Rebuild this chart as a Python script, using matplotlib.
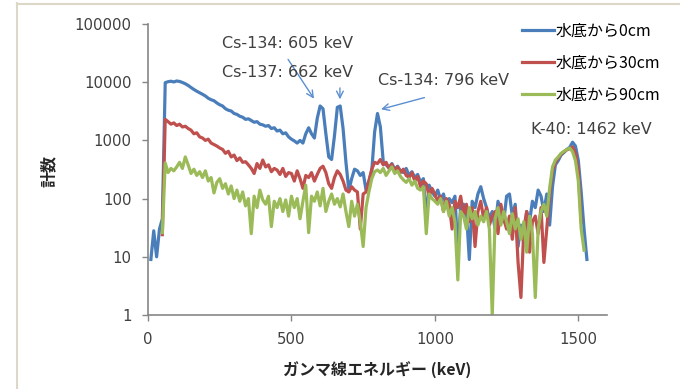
import numpy as np
import matplotlib
matplotlib.use("Agg")
import matplotlib.pyplot as plt
from matplotlib.lines import Line2D

plt.rcParams['font.family'] = ['DejaVu Sans', 'Noto Sans CJK JP']

# Spectra, 10 keV bins.  Each series lists its first bin energy.
E0_BLUE = 10
COUNTS_BLUE = [
    9, 28, 10, 30, 45,
    9800, 10200, 10400, 10100, 10500,
    10300, 9900, 9400, 8800, 8100,
    7500, 7000, 6600, 6200, 5800,
    5300, 5000, 4800, 4400, 4100,
    3900, 3500, 3300, 3200, 2900,
    2800, 2600, 2500, 2300, 2350,
    2200, 2050, 2100, 1900, 1850,
    1750, 1800, 1600, 1650, 1450,
    1500, 1300, 1350, 1150, 1050,
    980, 900, 1000, 900, 1300,
    1650, 1300, 1100, 2400, 3900,
    3500, 1300, 520, 470, 1200,
    3700, 3900, 1600, 420, 140,
    220, 320, 300, 250, 280,
    140, 200, 300, 1400, 2900,
    1700, 430, 380, 340, 400,
    320, 360, 300, 280, 330,
    250, 290, 230, 260, 190,
    220, 45, 170, 130, 110,
    140, 95, 120, 70, 100,
    85, 110, 12, 75, 80,
    60, 9, 90, 70, 120,
    160, 100, 70, 45, 60,
    30, 90, 60, 40, 110,
    120, 50, 80, 15, 35,
    18, 60, 40, 90, 70,
    140, 110, 60, 120, 35,
    160, 380, 450, 560, 620,
    700, 760, 930, 800, 450,
    130, 30, 9,
]

E0_RED = 50
COUNTS_RED = [
    24,
    2300, 2100, 1900, 2000, 1800,
    1900, 1700, 1750, 1600, 1500,
    1300, 1350, 1150, 1100, 1000,
    1050, 900, 850, 800, 740,
    700, 600, 650, 520, 560,
    450, 500, 420, 430, 380,
    330, 270, 400, 330, 460,
    350, 380, 290, 330, 310,
    260, 330, 240, 280, 270,
    200, 300, 220, 150, 250,
    230, 280, 200, 260, 330,
    360, 280, 180, 150, 230,
    300, 260, 200, 140, 130,
    160, 140, 130, 30, 120,
    130, 200, 320, 420, 400,
    470, 380, 420, 330, 390,
    300, 350, 280, 320, 250,
    230, 280, 200, 240, 160,
    200, 180, 110, 150, 120,
    90, 110, 60, 100, 80,
    30, 90, 70, 110, 50,
    80, 40, 70, 15, 60,
    90, 45, 70, 35, 50,
    60, 25, 80, 45, 30,
    50, 20, 70, 8, 2,
    30, 60, 12, 40, 50,
    25, 70, 8, 30, 120,
    300, 420, 500, 580, 640,
    690, 720, 770, 600, 300,
    40,
]

E0_GREEN = 50
COUNTS_GREEN = [
    26,
    410, 280, 330, 300, 350,
    420, 330, 520, 380, 270,
    320, 250, 290, 230, 300,
    200, 230, 125, 190, 220,
    150, 180, 120, 165, 100,
    140, 90, 130, 75, 100,
    25, 110, 70, 140, 95,
    80, 110, 33, 90, 70,
    100, 60, 95, 50, 110,
    70, 100, 45, 90, 170,
    26, 110, 90, 130, 75,
    150, 60, 90, 120, 80,
    100, 72, 120, 60, 33,
    90, 50, 80, 40, 15,
    70, 130, 220, 290, 310,
    280, 330, 250, 300, 350,
    270, 300, 240, 210, 190,
    220, 170, 200, 150, 140,
    160, 25, 120, 100, 90,
    80, 100, 60, 90, 50,
    70, 40, 4, 60, 50,
    30, 70, 45, 60, 35,
    50, 40, 60, 30, 1,
    45, 70, 35, 60, 40,
    25, 55, 30, 45, 20,
    40, 12, 50, 25, 2,
    30, 60, 80, 50, 150,
    350, 460, 520, 600, 650,
    700, 740, 640, 450, 200,
    30, 13,
]

LABELS = ['水底から0cm', '水底から30cm', '水底から90cm']
COLORS = ['#4a7ebb', '#c0504d', '#9bbb59']

X_TICKS = [0, 500, 1000, 1500]
Y_TICKS = [1, 10, 100, 1000, 10000, 100000]


def energies(e0, counts):
    return e0 + 10 * np.arange(len(counts))


fig = plt.figure(figsize=(6.8, 3.89), dpi=100)
ax = fig.add_axes([148 / 680, 74 / 389, 459 / 680, 291 / 389])

series = [(E0_BLUE, COUNTS_BLUE), (E0_RED, COUNTS_RED), (E0_GREEN, COUNTS_GREEN)]
for (e0, c), lab, col in zip(series, LABELS, COLORS):
    ax.plot(energies(e0, c), c, color=col, lw=2.3, label=lab,
            solid_joinstyle='round')

ax.set_yscale('log')
ax.set_ylim(1, 100000)
ax.set_xlim(0, 1600)
ax.set_xticks(X_TICKS)
ax.set_yticks(Y_TICKS)
ax.set_yticklabels([str(v) for v in Y_TICKS])
ax.minorticks_off()
ax.tick_params(axis='both', colors='#868686', labelcolor='#404040',
               labelsize=10.7, length=4, width=1, pad=8)

for side in ('top', 'right'):
    ax.spines[side].set_visible(False)
for side in ('left', 'bottom'):
    ax.spines[side].set_color('#868686')
    ax.spines[side].set_linewidth(1.2)

fig.text(377 / 680, 1 - 370 / 389, 'ガンマ線エネルギー (keV)', ha='center',
         va='center', fontsize=11.5, fontweight='bold', color='#262626',
         family=['Noto Sans CJK JP'])
fig.text(49 / 680, 1 - 171 / 389, '計数', ha='center', va='center',
         rotation=90, fontsize=11.5, fontweight='bold', color='#262626',
         family=['Noto Sans CJK JP'])

# peak annotations
tcol = '#404040'
akw = dict(arrowstyle='->', color='#5b8fd0', lw=1.0, mutation_scale=12)
ax.text(257, 47000, 'Cs-134: 605 keV', fontsize=11.5, color=tcol,
        ha='left', va='center')
ax.annotate('', xy=(584, 4750), xytext=(483, 27000), arrowprops=akw)
ax.text(257, 14400, 'Cs-137: 662 keV', fontsize=11.5, color=tcol,
        ha='left', va='center')
ax.annotate('', xy=(669, 4550), xytext=(669, 8900), arrowprops=akw)
ax.text(800, 10900, 'Cs-134: 796 keV', fontsize=11.5, color=tcol,
        ha='left', va='center')
ax.annotate('', xy=(803, 3330), xytext=(973, 5600), arrowprops=akw)
ax.text(1335, 1510, 'K-40: 1462 keV', fontsize=11.5, color=tcol,
        ha='left', va='center')

fig.legend(loc='upper left', bbox_to_anchor=(508 / 680, 1 - 8 / 389),
           frameon=False, handlelength=1.95, handletextpad=0.15,
           labelspacing=0.95, prop={'family': ['Noto Sans CJK JP'], 'size': 11.5})

# outer frame edge
fig.add_artist(Line2D([17 / 680, 17 / 680], [0, 1 - 3 / 389],
                      color='#dcd8c8', lw=1.5))
fig.add_artist(Line2D([17 / 680, 1], [1 - 3.5 / 389, 1 - 3.5 / 389],
                      color='#dcd8c8', lw=1.5))

fig.savefig('out.png', dpi=100)
